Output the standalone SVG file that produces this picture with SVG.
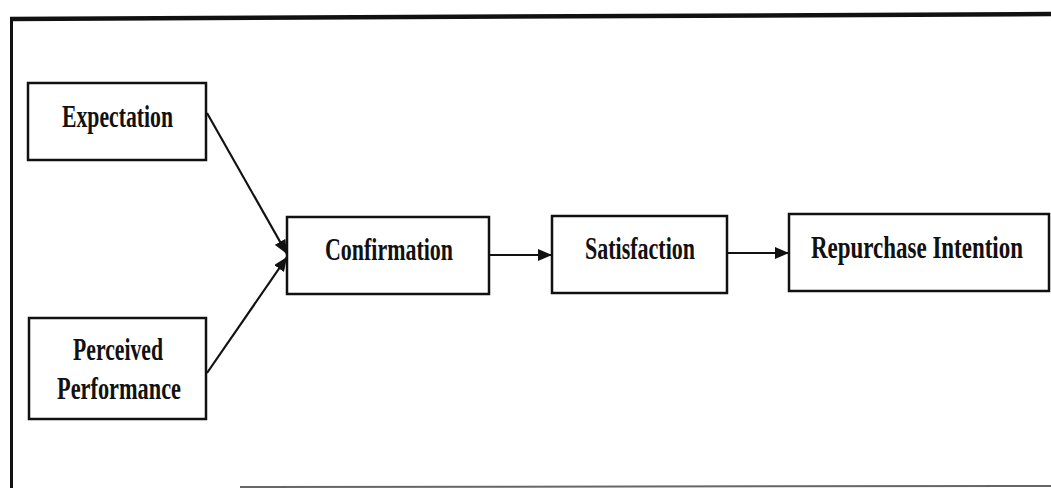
<svg xmlns="http://www.w3.org/2000/svg" width="1051" height="488" viewBox="0 0 1051 488">
<style>
.box{fill:#fff;stroke:#111;stroke-width:2.5}
.lbl{font-family:"Liberation Serif","Times New Roman",serif;font-weight:bold;font-size:23px;fill:#111;text-anchor:start}
.con{stroke:#111;stroke-width:2.2;fill:none;marker-end:url(#ah)}
</style>
<defs>
<marker id="ah" viewBox="0 0 14 12" refX="14" refY="6" markerWidth="14" markerHeight="12" markerUnits="userSpaceOnUse" orient="auto">
<path d="M0,0 L14,6 L0,12 z" fill="#111"/>
</marker>
</defs>
<rect width="1051" height="488" fill="#fff"/>
<g id="frame">
<line x1="10" y1="19" x2="1051" y2="14" stroke="#111" stroke-width="4.5"/>
<line x1="11.5" y1="17" x2="11.5" y2="488" stroke="#111" stroke-width="3"/>
<line x1="240" y1="487" x2="1051" y2="486" stroke="#666" stroke-width="2"/>
</g>
<g id="connectors">
<line class="con" x1="207" y1="113" x2="287" y2="254"/>
<line class="con" x1="207" y1="373" x2="287" y2="257"/>
<line class="con" x1="489" y1="255" x2="552" y2="255"/>
<line class="con" x1="727" y1="253" x2="789" y2="253"/>
</g>
<g id="expectation">
<rect class="box" x="28" y="83" width="178" height="77"/>
<text class="lbl" transform="translate(62,127) scale(1,1.4)" textLength="111" lengthAdjust="spacingAndGlyphs">Expectation</text>
</g>
<g id="perceived-performance">
<rect class="box" x="29" y="318" width="177" height="101"/>
<text class="lbl" transform="translate(73,360) scale(1,1.4)" textLength="90" lengthAdjust="spacingAndGlyphs">Perceived</text>
<text class="lbl" transform="translate(57,399) scale(1,1.4)" textLength="124" lengthAdjust="spacingAndGlyphs">Performance</text>
</g>
<g id="confirmation">
<rect class="box" x="287" y="217" width="202" height="77"/>
<text class="lbl" transform="translate(325,260) scale(1,1.4)" textLength="128" lengthAdjust="spacingAndGlyphs">Confirmation</text>
</g>
<g id="satisfaction">
<rect class="box" x="552" y="216" width="175" height="77"/>
<text class="lbl" transform="translate(585,259) scale(1,1.4)" textLength="110" lengthAdjust="spacingAndGlyphs">Satisfaction</text>
</g>
<g id="repurchase-intention">
<rect class="box" x="789" y="214" width="260" height="77"/>
<text class="lbl" transform="translate(811,258) scale(1,1.4)" textLength="212" lengthAdjust="spacingAndGlyphs">Repurchase Intention</text>
</g>
</svg>
